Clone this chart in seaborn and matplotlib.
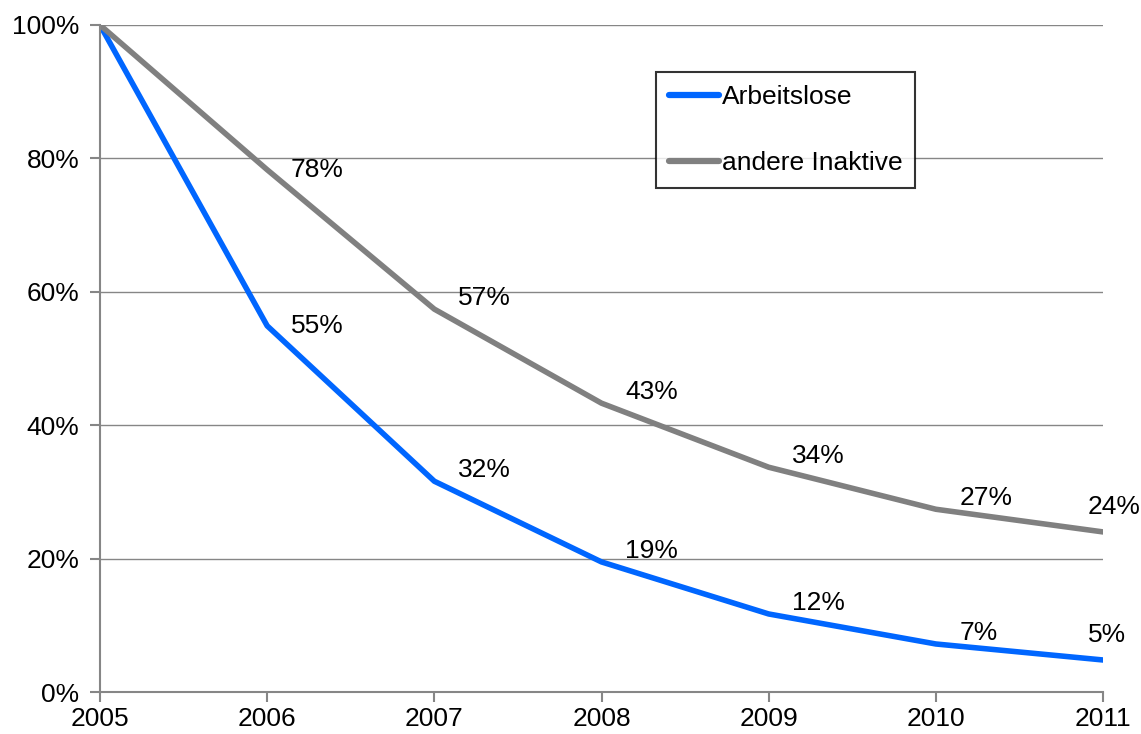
import numpy as np
import pandas as pd
import matplotlib.pyplot as plt
import seaborn as sns

years = [2005, 2006, 2007, 2008, 2009, 2010, 2011]
arbeitslose = [100, 54.9, 31.6, 19.5, 11.7, 7.2, 4.8]
inaktive = [100, 78.3, 57.4, 43.3, 33.7, 27.4, 24.0]
labels_arb = ["", "55%", "32%", "19%", "12%", "7%", "5%"]
labels_ina = ["", "78%", "57%", "43%", "34%", "27%", "24%"]
series = ["Arbeitslose", "andere Inaktive"]
colors = ["#0066ff", "#808080"]

df = pd.DataFrame({
    "Jahr": years * 2,
    "Wert": arbeitslose + inaktive,
    "Gruppe": [series[0]] * len(years) + [series[1]] * len(years),
})

sns.set_style("white")
plt.rcParams["font.family"] = ["Liberation Sans", "DejaVu Sans"]
plt.rcParams["font.size"] = 19
plt.rcParams["text.color"] = "black"
plt.rcParams["xtick.color"] = "#868686"
plt.rcParams["ytick.color"] = "#868686"
plt.rcParams["xtick.labelcolor"] = "black"
plt.rcParams["ytick.labelcolor"] = "black"

fig = plt.figure(figsize=(11.41, 7.34), dpi=100)
ax = fig.add_axes([100 / 1141, 42 / 734, 1003 / 1141, 667 / 734])

for v in [20, 40, 60, 80, 100]:
    ax.axhline(v, color="#868686", lw=1, zorder=0)

sns.lineplot(data=df, x="Jahr", y="Wert", hue="Gruppe", palette=colors,
             linewidth=4, ax=ax, legend=True)

# data labels, right of each point
last = len(years) - 1
for vals, labs in [(arbeitslose, labels_arb), (inaktive, labels_ina)]:
    for i, (x, y, t) in enumerate(zip(years, vals, labs)):
        if not t:
            continue
        dx = 17 if i < last else -11
        dy = 0 if i == 1 else (18 if i == last else 8)
        ax.annotate(t, (x, y), xytext=(dx, dy), textcoords="offset points",
                    ha="left", va="center", fontsize=19, color="black")

ax.set_xlim(2005, 2011)
ax.set_ylim(0, 100)
ax.set_xticks(years)
ax.set_yticks([0, 20, 40, 60, 80, 100])
ax.set_yticklabels([f"{v}%" for v in [0, 20, 40, 60, 80, 100]])
ax.set_xlabel("")
ax.set_ylabel("")
for s in ["top", "right"]:
    ax.spines[s].set_visible(False)
for s in ["left", "bottom"]:
    ax.spines[s].set_color("#868686")
    ax.spines[s].set_linewidth(1.5)
ax.tick_params(axis="both", which="both", direction="out", length=7,
               width=1.5, labelsize=19, bottom=True, left=True)
ax.tick_params(axis="y", pad=8)
ax.tick_params(axis="x", pad=4)

leg = ax.legend(loc="upper left", bbox_to_anchor=(0.554, 0.93), borderaxespad=0,
                frameon=True, fancybox=False, edgecolor="black", fontsize=19,
                handlelength=1.9, handletextpad=0.1, labelspacing=1.6,
                borderpad=0.5)
leg.get_frame().set_linewidth(1.5)
for line in leg.get_lines():
    line.set_linewidth(4.5)

fig.savefig("out.png", dpi=100)
